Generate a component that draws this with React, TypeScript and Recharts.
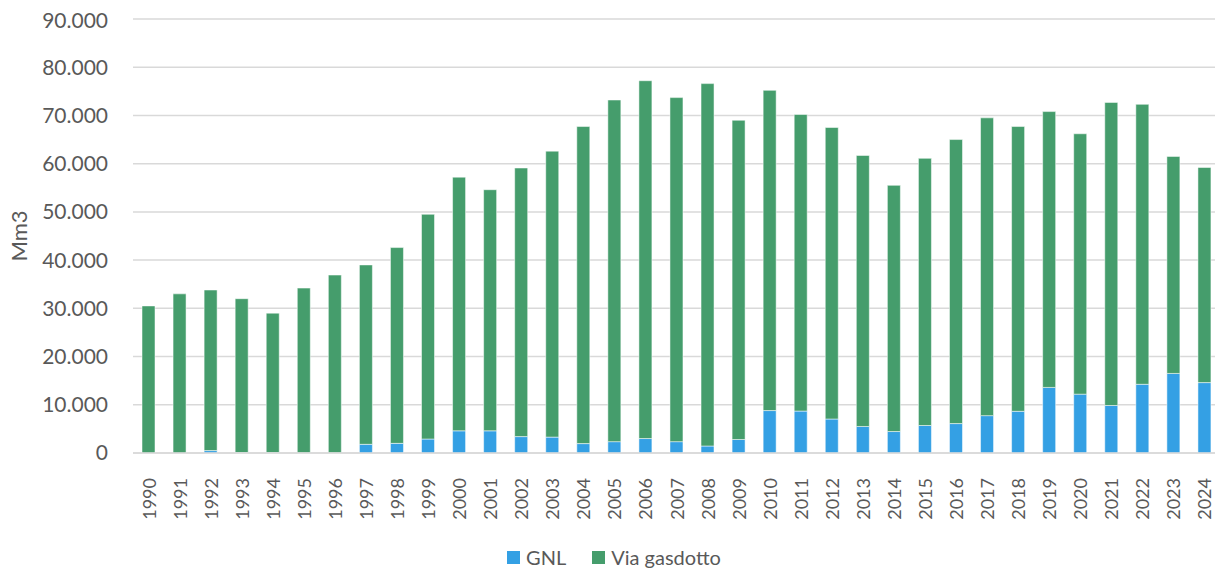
import React from 'react';
import { BarChart, Bar, XAxis, YAxis, CartesianGrid, Legend, Label } from 'recharts';

const years = [
  '1990', '1991', '1992', '1993', '1994', '1995', '1996', '1997', '1998', '1999',
  '2000', '2001', '2002', '2003', '2004', '2005', '2006', '2007', '2008', '2009',
  '2010', '2011', '2012', '2013', '2014', '2015', '2016', '2017', '2018', '2019',
  '2020', '2021', '2022', '2023', '2024',
];

const gnl = [
  0, 0, 500, 100, 100, 50, 50, 1800, 2000, 2900,
  4600, 4600, 3400, 3300, 1950, 2350, 3000, 2350, 1450, 2800,
  8800, 8700, 7050, 5500, 4450, 5700, 6100, 7750, 8650, 13600,
  12200, 9850, 14250, 16500, 14600,
];

const viaGasdotto = [
  30500, 33000, 33300, 31900, 28900, 34150, 36850, 37200, 40600, 46600,
  52600, 50000, 55700, 59300, 65750, 70850, 74200, 71350, 75150, 66200,
  66400, 61500, 60450, 56200, 51050, 55400, 58900, 61750, 59050, 57200,
  54000, 62850, 58050, 45000, 44600,
];

const yTicks = [0, 10000, 20000, 30000, 40000, 50000, 60000, 70000, 80000, 90000];

const GNL_COLOR = '#34A0E4';
const GAS_COLOR = '#459D6C';
const TEXT_COLOR = '#595959';
const FONT = 'Lato, "Open Sans", sans-serif';

const data = years.map((y, i) => ({ year: y, gnl: gnl[i], gas: viaGasdotto[i] }));

const fmt = (v: number) => String(v).replace(/\B(?=(\d{3})+(?!\d))/g, '.');

const XTick = (props: any) => {
  const { x, payload } = props;
  const ty = props.y + 8;
  return (
    <text
      x={x}
      y={ty}
      transform={`rotate(-90 ${x} ${ty})`}
      textAnchor="end"
      dominantBaseline="central"
      fill={TEXT_COLOR}
      fontSize={18}
      fontFamily={FONT}
    >
      {payload.value}
    </text>
  );
};

const YLabel = (props: any) => {
  const vb = props.viewBox || { x: 0, y: 0, width: 0, height: 0 };
  const cx = 19;
  const cy = vb.y + vb.height / 2;
  return (
    <text
      x={cx}
      y={cy}
      transform={`rotate(-90 ${cx} ${cy})`}
      textAnchor="middle"
      fill={TEXT_COLOR}
      fontSize={22}
      fontFamily={FONT}
    >
      Mm3
    </text>
  );
};

const LegendContent = () => (
  <div
    style={{
      height: 26,
      display: 'flex',
      justifyContent: 'center',
      alignItems: 'center',
      fontFamily: FONT,
      fontSize: 20,
      color: TEXT_COLOR,
    }}
  >
    {[
      { label: 'GNL', color: GNL_COLOR },
      { label: 'Via gasdotto', color: GAS_COLOR },
    ].map((item, i) => (
      <div key={item.label} style={{ display: 'flex', alignItems: 'center', marginLeft: i ? 26 : 0 }}>
        <span style={{ width: 13, height: 13, background: item.color, display: 'inline-block', marginRight: 6 }} />
        <span>{item.label}</span>
      </div>
    ))}
  </div>
);

export default function App() {
  return (
    <div style={{ width: 1215, height: 562, background: '#fff' }}>
      <BarChart
        width={1215}
        height={562}
        data={data}
        margin={{ top: 11, right: 3, left: 0, bottom: 0 }}
        barSize={13}
      >
        <CartesianGrid vertical={false} stroke="#d9d9d9" strokeWidth={1.5} />
        <XAxis
          dataKey="year"
          interval={0}
          tickLine={false}
          tickSize={0}
          tickMargin={17}
          height={91}
          axisLine={{ stroke: '#d9d9d9', strokeWidth: 1.5 }}
          tick={<XTick />}
        />
        <YAxis
          domain={[0, 90000]}
          ticks={yTicks}
          tickFormatter={fmt}
          axisLine={false}
          tickLine={false}
          tickSize={0}
          tickMargin={25}
          width={125}
          tick={{ fill: TEXT_COLOR, fontSize: 21, fontFamily: FONT }}
        >
          <Label content={<YLabel />} />
        </YAxis>
        <Legend verticalAlign="bottom" content={<LegendContent />} />
        <Bar dataKey="gnl" name="GNL" stackId="a" fill={GNL_COLOR} stroke="#ffffff" strokeOpacity={0.5} strokeWidth={1} isAnimationActive={false} />
        <Bar dataKey="gas" name="Via gasdotto" stackId="a" fill={GAS_COLOR} stroke="#ffffff" strokeOpacity={0.5} strokeWidth={1} isAnimationActive={false} />
      </BarChart>
    </div>
  );
}
